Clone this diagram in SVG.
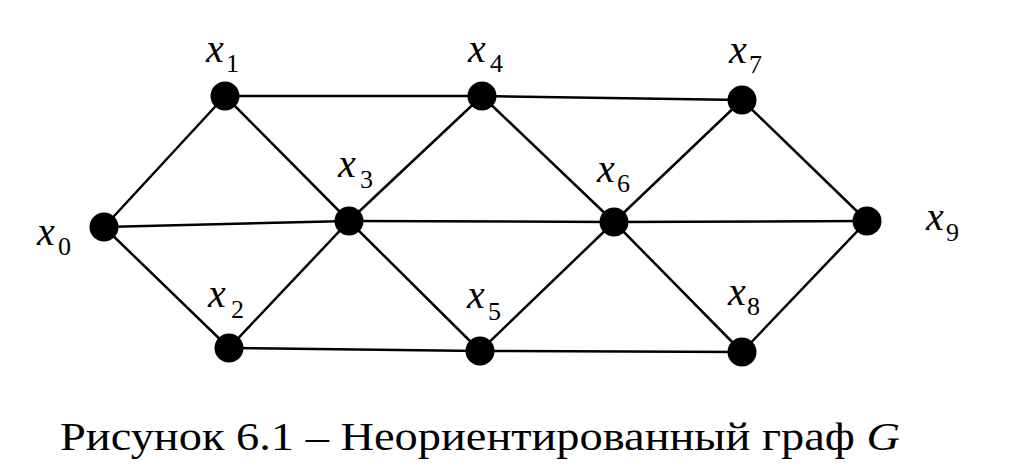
<svg xmlns="http://www.w3.org/2000/svg" width="1024" height="472" viewBox="0 0 1024 472">
<style>
.e{stroke:#000;stroke-width:2.5;fill:none}
.n{fill:#000}
text{font-family:'Liberation Serif','Times New Roman','DejaVu Serif',serif;fill:#000}
.v{font-style:italic;font-size:40px}
.s{font-size:26px}
.c{font-size:41px}
</style>
<rect width="1024" height="472" fill="#fff"/>
<g id="edges">
<line class="e" x1="104" y1="227" x2="225" y2="96"/>
<line class="e" x1="104" y1="227" x2="349" y2="221"/>
<line class="e" x1="104" y1="227" x2="229" y2="348"/>
<line class="e" x1="225" y1="96" x2="482" y2="96"/>
<line class="e" x1="225" y1="96" x2="349" y2="221"/>
<line class="e" x1="229" y1="348" x2="349" y2="221"/>
<line class="e" x1="229" y1="348" x2="480" y2="351"/>
<line class="e" x1="349" y1="221" x2="482" y2="96"/>
<line class="e" x1="349" y1="221" x2="480" y2="351"/>
<line class="e" x1="349" y1="221" x2="614" y2="222"/>
<line class="e" x1="482" y1="96" x2="742" y2="100"/>
<line class="e" x1="482" y1="96" x2="614" y2="222"/>
<line class="e" x1="480" y1="351" x2="614" y2="222"/>
<line class="e" x1="480" y1="351" x2="742" y2="352"/>
<line class="e" x1="614" y1="222" x2="742" y2="100"/>
<line class="e" x1="614" y1="222" x2="867" y2="221"/>
<line class="e" x1="614" y1="222" x2="742" y2="352"/>
<line class="e" x1="742" y1="100" x2="867" y2="221"/>
<line class="e" x1="742" y1="352" x2="867" y2="221"/>
</g>
<g id="x0"><circle class="n" cx="104" cy="227" r="14.5"/><text class="v" x="37" y="245">x</text><text class="s" x="58" y="255">0</text></g>
<g id="x1"><circle class="n" cx="225" cy="96" r="14.5"/><text class="v" x="206" y="62">x</text><text class="s" x="226" y="72">1</text></g>
<g id="x2"><circle class="n" cx="229" cy="348" r="14.5"/><text class="v" x="208" y="307">x</text><text class="s" x="231" y="318">2</text></g>
<g id="x3"><circle class="n" cx="349" cy="221" r="14.5"/><text class="v" x="338" y="177">x</text><text class="s" x="360" y="188">3</text></g>
<g id="x4"><circle class="n" cx="482" cy="96" r="14.5"/><text class="v" x="468" y="62">x</text><text class="s" x="490" y="72">4</text></g>
<g id="x5"><circle class="n" cx="480" cy="351" r="14.5"/><text class="v" x="467" y="308">x</text><text class="s" x="488" y="320">5</text></g>
<g id="x6"><circle class="n" cx="614" cy="222" r="14.5"/><text class="v" x="597" y="182">x</text><text class="s" x="617" y="192">6</text></g>
<g id="x7"><circle class="n" cx="742" cy="100" r="14.5"/><text class="v" x="729" y="63">x</text><text class="s" x="749" y="73">7</text></g>
<g id="x8"><circle class="n" cx="742" cy="352" r="14.5"/><text class="v" x="728" y="305">x</text><text class="s" x="747" y="315">8</text></g>
<g id="x9"><circle class="n" cx="867" cy="221" r="14.5"/><text class="v" x="926" y="230">x</text><text class="s" x="946" y="241">9</text></g>
<text class="c" x="60" y="450" textLength="840" lengthAdjust="spacingAndGlyphs">Рисунок 6.1 – Неориентированный граф <tspan font-style="italic">G</tspan></text>
</svg>
